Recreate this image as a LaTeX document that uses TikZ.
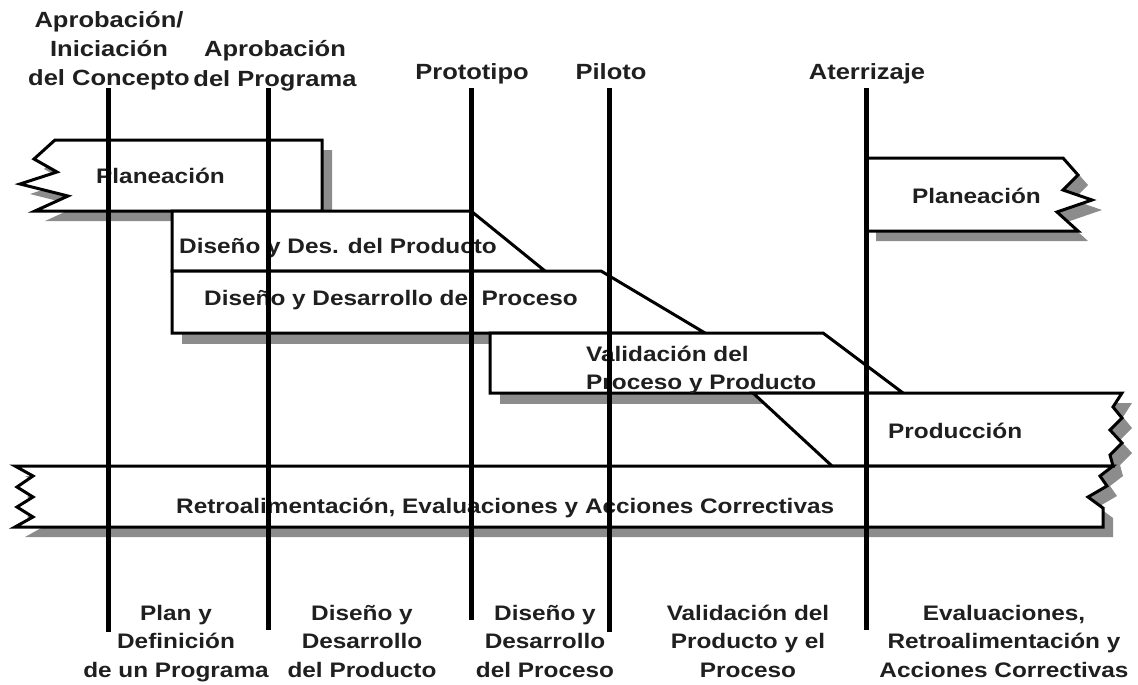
\documentclass[tikz,border=0pt]{standalone}
\usepackage{fontspec}
\setmainfont{Liberation Sans}[FakeStretch=1.16]
\usetikzlibrary{calc}

\tikzset{
  box/.style={draw=black, fill=white, line width=3pt, line join=miter},
  shade/.style={fill=black!45, draw=none},
  lbl/.style={font=\fontsize{21}{28}\selectfont\bfseries, text=black!88, inner sep=0pt},
  hito/.style={font=\fontsize{22}{29}\selectfont\bfseries, text=black!88, inner sep=0pt, align=center},
  fase/.style={font=\fontsize{21}{28.5}\selectfont\bfseries, text=black!88, inner sep=0pt, align=center},
  linea/.style={line width=5pt}
}

\begin{document}
\begin{tikzpicture}[x=1pt, y=-1pt]
\useasboundingbox (0,0) rectangle (1138,685);

% sombras
\fill[shade, shift={(10,10)}] (55,140) -- (322,140) -- (322,211) -- (35,211) -- (68,196) -- (20,184) -- (57,172) -- (34,159) -- cycle;
% planeacion (izq.)
\draw[box] (55,140) -- (322,140) -- (322,211) -- (35,211) -- (68,196) -- (20,184) -- (57,172) -- (34,159) -- cycle;

% diseno producto
\draw[box] (172,211) -- (471,211) -- (545,271) -- (172,271) -- cycle;

\fill[shade] (182,281) rectangle (500,344);
% diseno proceso
\draw[box] (172,271) -- (601,271) -- (705,333) -- (172,333) -- cycle;

\fill[shade] (500,343) rectangle (763,404);
% validacion
\draw[box] (490,333) -- (823,333) -- (903,393) -- (490,393) -- cycle;

\fill[shade, shift={(10,10)}] (753,393) -- (1122,393) -- (1113,407) -- (1122,418) -- (1110,430) -- (1122,443) -- (1110,455) -- (1113,466) -- (832,466) -- cycle;
% produccion
\draw[box] (753,393) -- (1122,393) -- (1113,407) -- (1122,418) -- (1110,430) -- (1122,443) -- (1110,455) -- (1113,466) -- (832,466) -- cycle;

\fill[shade, shift={(10,10)}] (15,466) -- (1113,466) -- (1100,476) -- (1107,486) -- (1088,497) -- (1103,508) -- (1103,527) -- (15,527) -- (33,517) -- (17,507) -- (33,497) -- (17,487) -- (33,476) -- cycle;
% retroalimentacion
\draw[box] (15,466) -- (1113,466) -- (1100,476) -- (1107,486) -- (1088,497) -- (1103,508) -- (1103,527) -- (15,527) -- (33,517) -- (17,507) -- (33,497) -- (17,487) -- (33,476) -- cycle;

\fill[shade, shift={(10,10)}] (866,158) -- (1063,158) -- (1078,175) -- (1063,190) -- (1092,200) -- (1057,212) -- (1078,231) -- (866,231) -- cycle;
% planeacion (der.)
\draw[box] (866,158) -- (1063,158) -- (1078,175) -- (1063,190) -- (1092,200) -- (1057,212) -- (1078,231) -- (866,231) -- cycle;

% textos de las cajas
\node[lbl, anchor=base west] (plan1) at (96,183) {Planeación};
\node[lbl, anchor=base west] (dprod) at (179,253) {Diseño y Des. del Producto};
\node[lbl, anchor=base west] (dproc) at (204,305) {Diseño y Desarrollo del Proceso};
\node[lbl, anchor=base west, align=left] (valid) at (586,389) {Validación del\\Proceso y Producto};
\node[lbl, anchor=base west] (prod) at (888,438) {Producción};
\node[lbl, anchor=base west] (plan2) at (912,203) {Planeación};
\node[lbl, anchor=base west] (retro) at (176,513) {Retroalimentación, Evaluaciones y Acciones Correctivas};

% hitos
\node[hito, anchor=base] (apcon) at (109,85) {Aprobación/\\Iniciación\\del Concepto};
\node[hito, anchor=base] (approg) at (275,86) {Aprobación\\del Programa};
\node[hito, anchor=base] (proto) at (472,80) {Prototipo};
\node[hito, anchor=base] (pilot) at (611,80) {Piloto};
\node[hito, anchor=base] (aterr) at (867,80) {Aterrizaje};

% fases
\node[fase, anchor=base] (fplan) at (176,677) {Plan y\\Definición\\de un Programa};
\node[fase, anchor=base] (fprod) at (362,677) {Diseño y\\Desarrollo\\del Producto};
\node[fase, anchor=base] (fproc) at (545,677) {Diseño y\\Desarrollo\\del Proceso};
\node[fase, anchor=base] (fvalid) at (748,677) {Validación del\\Producto y el\\Proceso};
\node[fase, anchor=base] (fretro) at (1004,677) {Evaluaciones,\\Retroalimentación y\\Acciones Correctivas};

% lineas de los hitos
\coordinate (a1) at (108,88);  \coordinate (b1) at (108,632);
\coordinate (a2) at (268,88);  \coordinate (b2) at (268,630);
\coordinate (a3) at (471,88);  \coordinate (b3) at (471,620);
\coordinate (a4) at (609,88);  \coordinate (b4) at (609,632);
\coordinate (a5) at (866,88);  \coordinate (b5) at (866,630);
\draw[linea] (a1) -- (b1);
\draw[linea] (a2) -- (b2);
\draw[linea] (a3) -- (b3);
\draw[linea] (a4) -- (b4);
\draw[linea] (a5) -- (b5);
\end{tikzpicture}
\end{document}
